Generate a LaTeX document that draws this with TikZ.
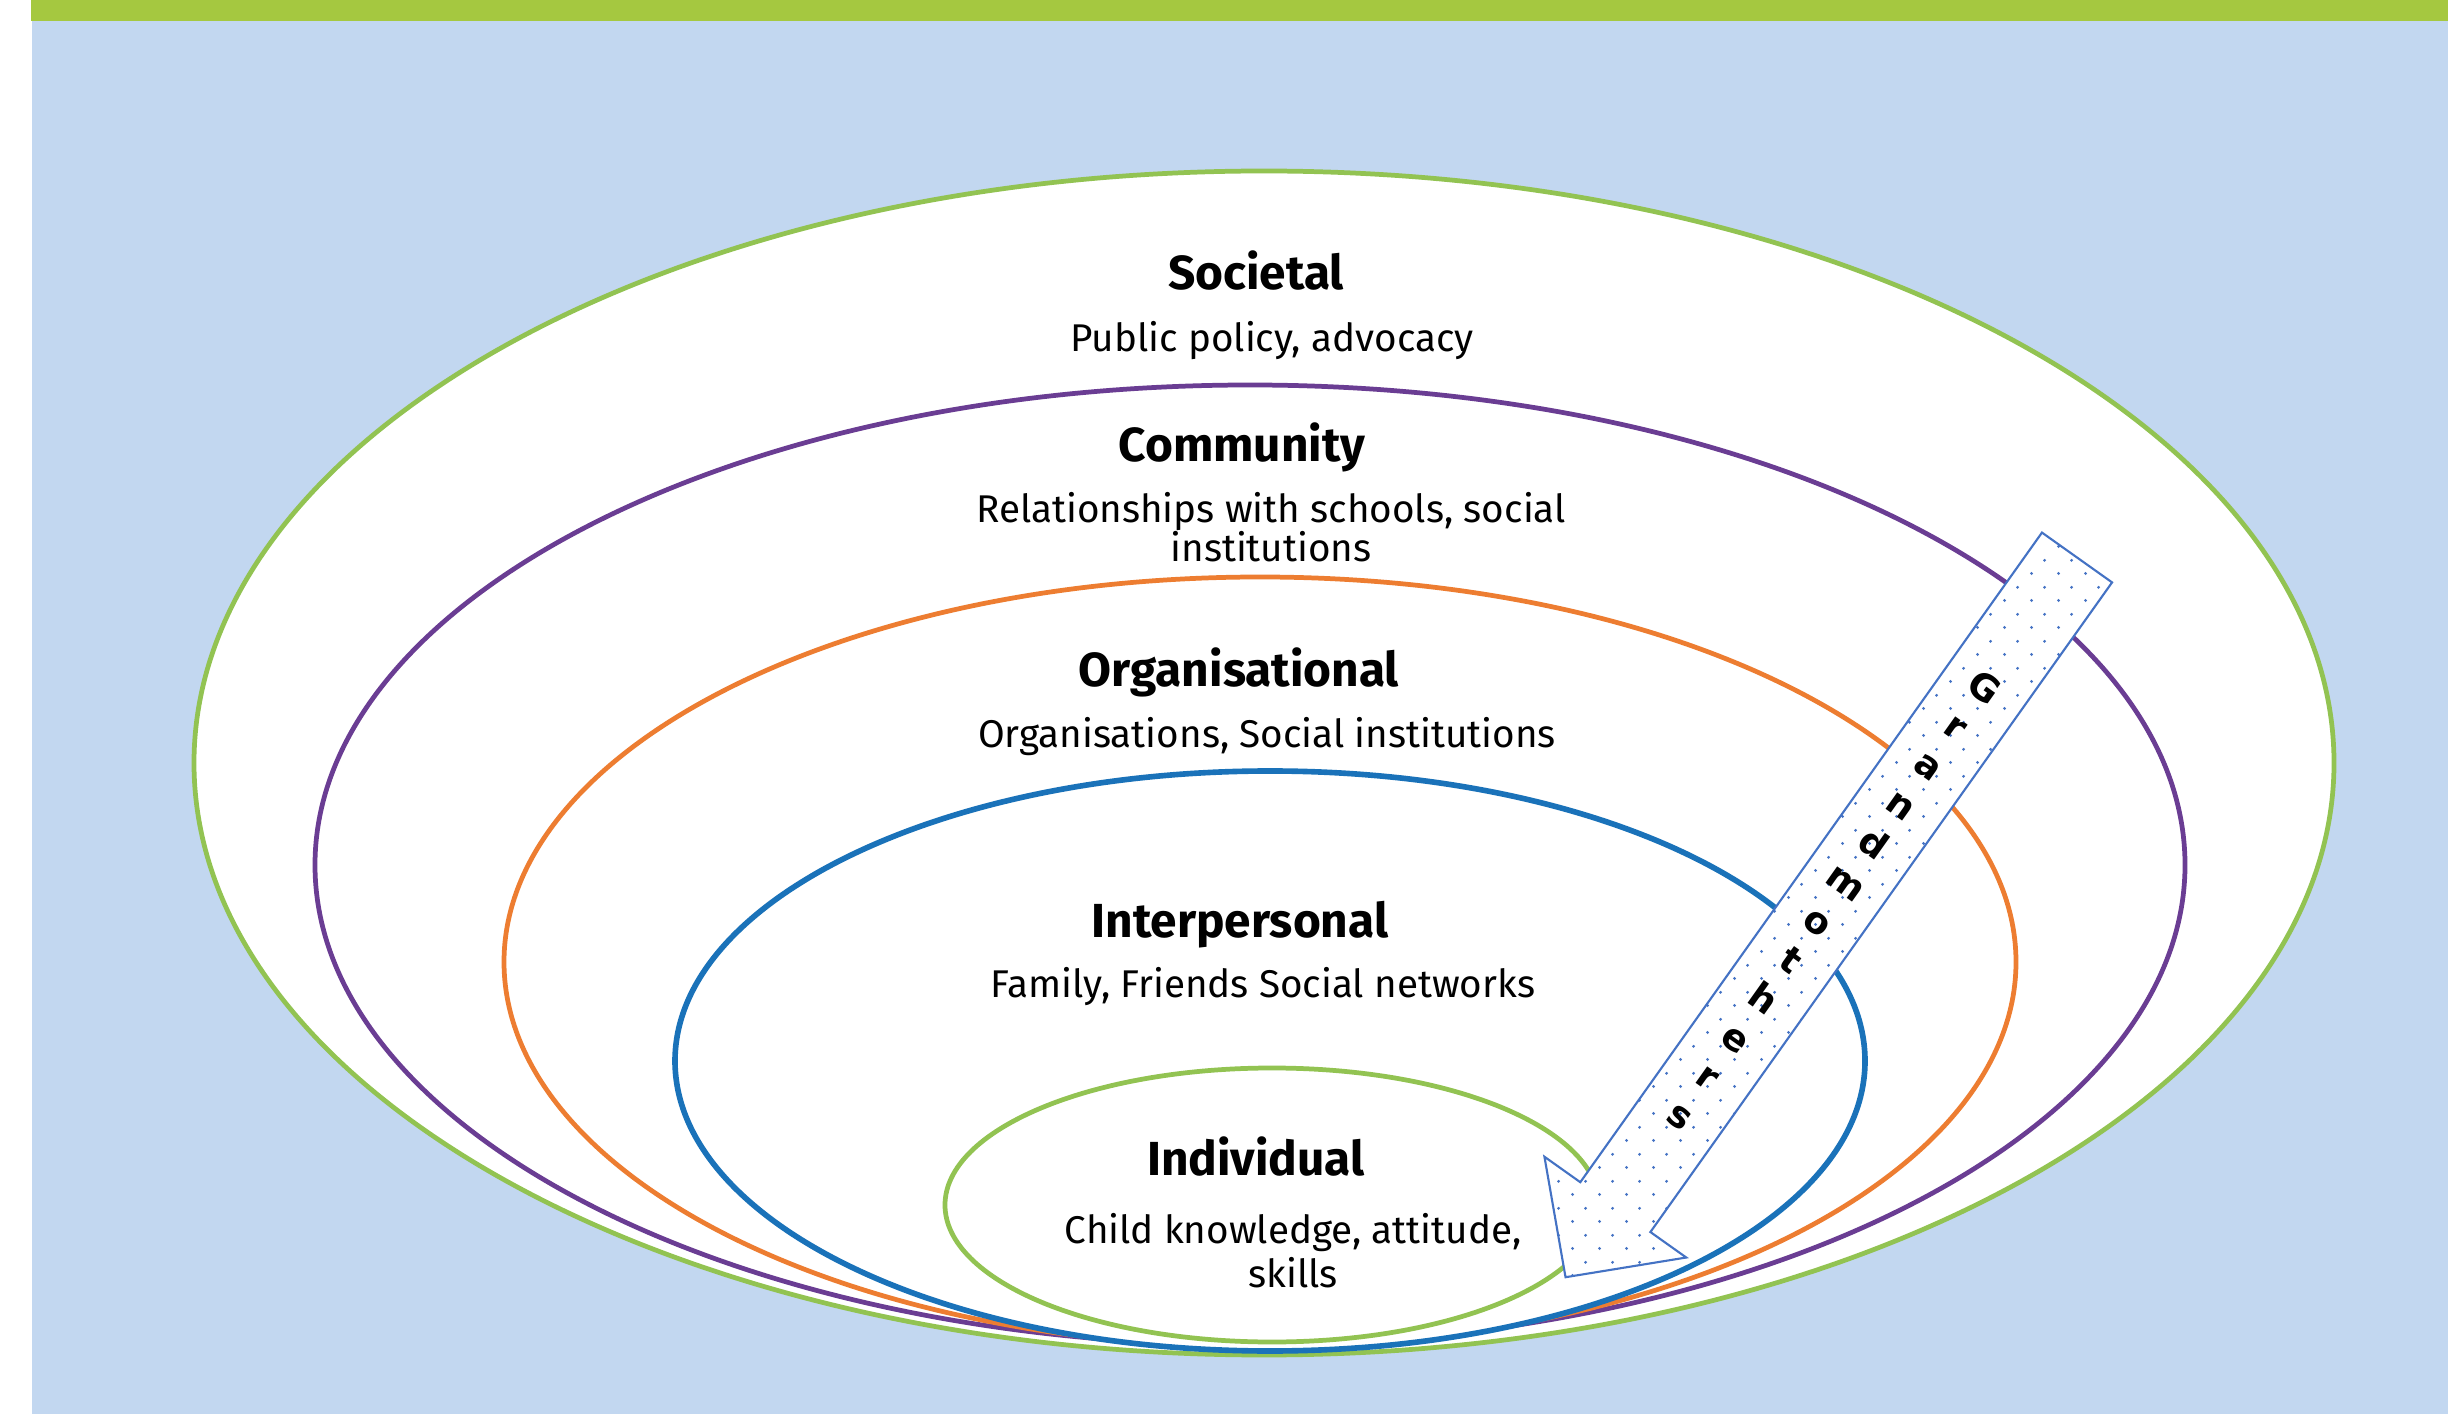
\documentclass[tikz,border=0pt]{standalone}
\usepackage{fontspec}
\setmainfont{Fira Sans}
\newfontfamily\arrowfont{DejaVu Sans}
\usepackage{xcolor}
\usetikzlibrary{patterns.meta}

\definecolor{bandgreen}{HTML}{A5C840}
\definecolor{bgblue}{HTML}{C2D7F0}
\definecolor{ringgreen}{HTML}{92C352}
\definecolor{ringpurple}{HTML}{6A3D93}
\definecolor{ringorange}{HTML}{ED7D31}
\definecolor{ringblue}{HTML}{1A72B9}
\definecolor{dotblue}{HTML}{4472C4}

\tikzdeclarepattern{
  name=granddots,
  type=colored,
  bounding box={(0,0) and (0.27,0.266)},
  tile size={(0.27,0.266)},
  code={
    \fill[dotblue] (0.0675,0.0665) circle (0.016);
    \fill[dotblue] (0.2025,0.1995) circle (0.016);
  }
}

\begin{document}
\begin{tikzpicture}[x=1cm,y=1cm,
    ring/.style={fill=white,line width=1.35pt},
    ringtitle/.style={anchor=base,font=\fontsize{13.6}{16}\selectfont\bfseries},
    ringtext/.style={anchor=base,align=center,font=\fontsize{11}{11.1}\selectfont},
    letter/.style={rotate=-35.4,inner sep=0pt,text height=1.6ex,text depth=0pt,
      font=\arrowfont\bfseries\fontsize{10.5}{10.5}\selectfont}]
    \fill[white] (0,0) rectangle (24.48,14.14);
    \fill[bgblue] (0.32,0) rectangle (24.48,13.93);
    \fill[bandgreen] (0.31,13.93) rectangle (24.48,14.14);
    \useasboundingbox (0,0) rectangle (24.48,14.14);

    \draw[ring,draw=ringgreen] (12.64,6.51) ellipse [x radius=10.70,y radius=5.92];
    \draw[ring,draw=ringpurple] (12.50,5.49) ellipse [x radius=9.35,y radius=4.80];
    \draw[ring,draw=ringorange] (12.60,4.52) ellipse [x radius=7.56,y radius=3.85];
    \draw[ring,draw=ringblue,line width=1.6pt] (12.70,3.53) ellipse [x radius=5.95,y radius=2.90];
    \draw[ring,draw=ringgreen] (12.72,2.09) ellipse [x radius=3.27,y radius=1.37];

    \node[ringtitle] (soc) at (12.56,11.24) {Societal};
    \node[ringtext] (socdesc) at (12.72,10.62) {Public policy, advocacy};
    \node[ringtitle] (com) at (12.42,9.52) {Community};
    \node[ringtext] (comdesc) at (12.71,8.52) {Relationships with schools, social\\institutions};
    \node[ringtitle] (org) at (12.39,7.27) {Organisational};
    \node[ringtext] (orgdesc) at (12.67,6.66) {Organisations, Social institutions};
    \node[ringtitle] (inter) at (12.40,4.77) {Interpersonal};
    \node[ringtext] (interdesc) at (12.63,4.17) {Family, Friends Social networks};
    \node[ringtitle] (ind) at (12.56,2.39) {Individual};
    \node[ringtext,font=\fontsize{11}{12.5}\selectfont] (inddesc) at (12.93,1.27) {Child knowledge, attitude,\\skills};

    \begin{scope}[shift={(20.77,8.565)},rotate=-125.4]
        \draw[dotblue,line width=0.6pt,line join=miter,preaction={fill=white},pattern={granddots}]
            (0,-0.43) -- (0,0.43) -- (7.97,0.43) -- (7.97,0.87) -- (8.83,0)
            -- (7.97,-0.87) -- (7.97,-0.43) -- cycle;
        \foreach \ch [count=\i from 0] in {G,r,a,n,d,m,o,t,h,e,r,s}
            \node[letter] (gm\i) at (1.58+0.477*\i,0) {\ch};
    \end{scope}
\end{tikzpicture}
\end{document}
